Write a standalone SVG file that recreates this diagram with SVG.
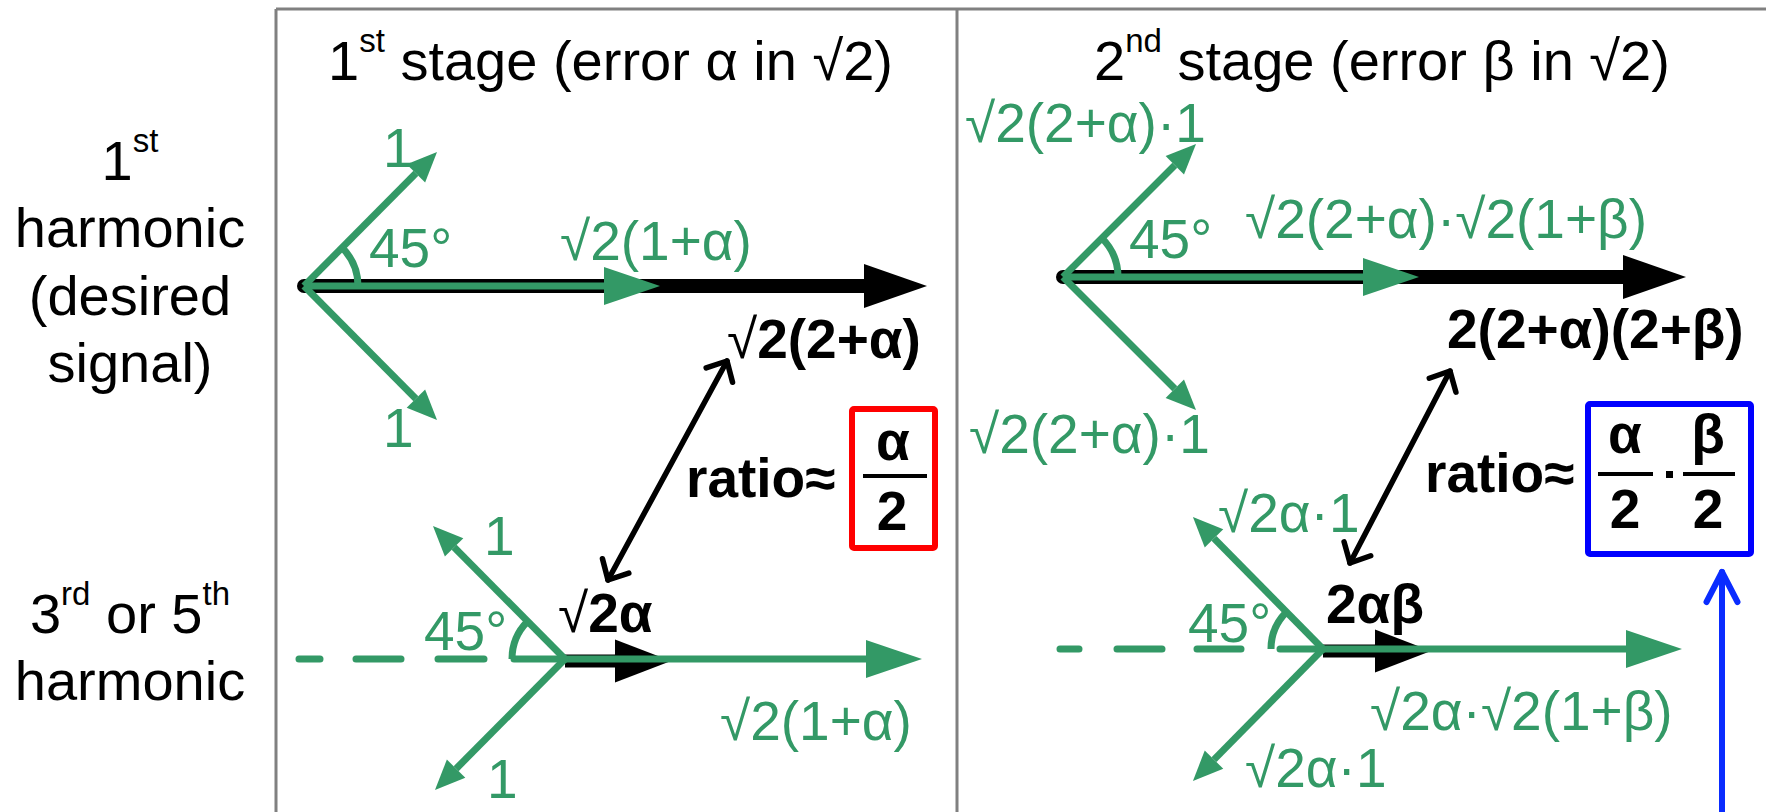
<svg xmlns="http://www.w3.org/2000/svg" width="1766" height="812" viewBox="0 0 1766 812">
<style>
.t{font-family:"Liberation Sans",Arial,sans-serif;font-size:56px;fill:#000}
.g{font-family:"Liberation Sans",Arial,sans-serif;font-size:55px;fill:#339966}
.b{font-family:"Liberation Sans",Arial,sans-serif;font-size:55px;font-weight:bold;fill:#000}
.n{font-weight:normal}
.frame{stroke:#808080;stroke-width:3;fill:none}
.gl{stroke:#339966;stroke-width:7;fill:none}
.gd{stroke:#339966;stroke-width:7;fill:none;stroke-linecap:round}
.bl{stroke:#000;fill:none}
</style>
<defs>
<marker id="gBig" markerUnits="userSpaceOnUse" orient="auto" refX="0" refY="0" markerWidth="60" markerHeight="40" overflow="visible"><path d="M0,-19 L56,0 L0,19 z" fill="#339966"/></marker>
<marker id="gSmall" markerUnits="userSpaceOnUse" orient="auto" refX="0" refY="0" markerWidth="32" markerHeight="28" overflow="visible"><path d="M0,-13 L30,0 L0,13 z" fill="#339966"/></marker>
<marker id="kBig" markerUnits="userSpaceOnUse" orient="auto" refX="0" refY="0" markerWidth="64" markerHeight="44" overflow="visible"><path d="M0,-22 L63,0 L0,22 z" fill="#000"/></marker>
<marker id="kMid" markerUnits="userSpaceOnUse" orient="auto" refX="0" refY="0" markerWidth="58" markerHeight="44" overflow="visible"><path d="M0,-21.5 L56,0 L0,21.5 z" fill="#000"/></marker>
<marker id="openK" markerUnits="userSpaceOnUse" orient="auto-start-reverse" refX="0" refY="0" markerWidth="22" markerHeight="32" overflow="visible"><path d="M-16,-15 L0,0 L-16,15" fill="none" stroke="#000" stroke-width="5.5" stroke-linecap="round" stroke-linejoin="round"/></marker>
<marker id="openB" markerUnits="userSpaceOnUse" orient="auto" refX="0" refY="0" markerWidth="34" markerHeight="34" overflow="visible"><path d="M-30,-15.5 L0,0 L-30,15.5" fill="none" stroke="#0a2cff" stroke-width="6" stroke-linecap="round" stroke-linejoin="round"/></marker>
</defs>

<g id="frame">
<line class="frame" x1="276" y1="9" x2="1766" y2="9"/>
<line class="frame" x1="276" y1="9" x2="276" y2="812"/>
<line class="frame" x1="957" y1="9" x2="957" y2="812"/>
</g>

<g id="row-labels">
<text class="t" text-anchor="middle" x="130" y="180">1<tspan dy="-28" font-size="33">st</tspan></text>
<text class="t" text-anchor="middle" x="130" y="247">harmonic</text>
<text class="t" text-anchor="middle" x="130" y="315">(desired</text>
<text class="t" text-anchor="middle" x="130" y="382">signal)</text>
<text class="t" text-anchor="middle" x="130" y="633">3<tspan dy="-28" font-size="33">rd</tspan><tspan dy="28"> or 5</tspan><tspan dy="-28" font-size="33">th</tspan></text>
<text class="t" text-anchor="middle" x="130" y="700">harmonic</text>
</g>

<g id="titles">
<text class="t" x="328" y="80">1<tspan dy="-28" font-size="33">st</tspan><tspan dy="28"> stage (error α in √2)</tspan></text>
<text class="t" x="1094" y="80">2<tspan dy="-28" font-size="33">nd</tspan><tspan dy="28"> stage (error β in √2)</tspan></text>
</g>

<g id="connectors">
<!-- stage 1, 1st harmonic -->
<line class="bl" x1="304" y1="286" x2="864" y2="286" stroke-width="14" stroke-linecap="round" marker-end="url(#kBig)"/>
<line class="gl" x1="304" y1="286" x2="604" y2="286" marker-end="url(#gBig)"/>
<line class="gl" x1="304" y1="286" x2="415.9" y2="173.3" marker-end="url(#gSmall)"/>
<line class="gl" x1="304" y1="286" x2="415.9" y2="398.7" marker-end="url(#gSmall)"/>
<path class="gl" stroke-width="5" d="M358,286 A54,54 0 0 0 342.2,247.8"/>
<!-- stage 1, 3rd/5th harmonic -->
<line class="bl" x1="565" y1="661" x2="615" y2="661" stroke-width="13" marker-end="url(#kMid)"/>
<line class="gl" x1="565" y1="659" x2="866" y2="659" marker-end="url(#gBig)"/>
<line class="gl" x1="565" y1="659" x2="454.1" y2="547.3" marker-end="url(#gSmall)"/>
<line class="gl" x1="565" y1="659" x2="456.1" y2="768.7" marker-end="url(#gSmall)"/>
<path class="gd" d="M299,659 H320 M356,659 H401 M438,659 H484 M514,659 H565"/>
<path class="gl" stroke-width="5" d="M512,659 A53,53 0 0 1 527.5,621.5"/>
<line x1="727" y1="361" x2="608" y2="580" stroke="#000" stroke-width="5.5" stroke-linecap="round" marker-start="url(#openK)" marker-end="url(#openK)"/>
<!-- stage 2, 1st harmonic -->
<line class="bl" x1="1063" y1="277" x2="1623" y2="277" stroke-width="14" stroke-linecap="round" marker-end="url(#kBig)"/>
<line class="gl" x1="1063" y1="277" x2="1363" y2="277" marker-end="url(#gBig)"/>
<line class="gl" x1="1063" y1="277" x2="1174.8" y2="165.2" marker-end="url(#gSmall)"/>
<line class="gl" x1="1063" y1="277" x2="1174.8" y2="388.8" marker-end="url(#gSmall)"/>
<path class="gl" stroke-width="5" d="M1118,277 A55,55 0 0 0 1101.9,238.1"/>
<!-- stage 2, 3rd/5th harmonic -->
<line class="bl" x1="1323" y1="651" x2="1375" y2="651" stroke-width="13" marker-end="url(#kMid)"/>
<line class="gl" x1="1323" y1="649" x2="1626" y2="649" marker-end="url(#gBig)"/>
<line class="gl" x1="1323" y1="649" x2="1214" y2="538.4" marker-end="url(#gSmall)"/>
<line class="gl" x1="1323" y1="649" x2="1214" y2="759.6" marker-end="url(#gSmall)"/>
<path class="gd" d="M1060,649 H1079 M1117,649 H1162 M1197,649 H1241 M1280,649 H1323"/>
<path class="gl" stroke-width="5" d="M1271,649 A52,52 0 0 1 1286.2,612.2"/>
<line x1="1450" y1="371" x2="1350" y2="563" stroke="#000" stroke-width="5.5" stroke-linecap="round" marker-start="url(#openK)" marker-end="url(#openK)"/>
<!-- blue pointer -->
<line x1="1722" y1="812" x2="1722" y2="572" stroke="#0a2cff" stroke-width="6" stroke-linecap="round" marker-end="url(#openB)"/>
</g>

<g id="stage1-labels">
<text class="g" x="383" y="167">1</text>
<text class="g" x="383" y="447">1</text>
<text class="g" x="369" y="267">45°</text>
<text class="g" x="560" y="260">√2(1+α)</text>
<text class="b" x="727" y="358"><tspan class="n">√</tspan>2(2+α)</text>
<text class="g" x="484" y="555">1</text>
<text class="g" x="487" y="798">1</text>
<text class="g" x="424" y="650">45°</text>
<text class="b" x="558" y="632"><tspan class="n">√</tspan>2α</text>
<text class="g" x="720" y="740">√2(1+α)</text>
</g>

<g id="ratio1">
<text class="b" x="686" y="497">ratio≈</text>
<rect x="852" y="409" width="83" height="139" rx="2" fill="none" stroke="#ff0000" stroke-width="6"/>
<text class="b" text-anchor="middle" x="893" y="460">α</text>
<line x1="863" y1="476" x2="927" y2="476" stroke="#000" stroke-width="4"/>
<text class="b" text-anchor="middle" x="892" y="530">2</text>
</g>

<g id="stage2-labels">
<text class="g" x="965" y="142">√2(2+α)·1</text>
<text class="g" x="1129" y="258">45°</text>
<text class="g" x="1245" y="238">√2(2+α)·√2(1+β)</text>
<text class="b" x="1447" y="348">2(2+α)(2+β)</text>
<text class="g" x="969" y="453">√2(2+α)·1</text>
<text class="g" x="1218" y="532">√2α·1</text>
<text class="g" x="1188" y="642">45°</text>
<text class="b" x="1326" y="623">2αβ</text>
<text class="g" x="1370" y="730">√2α·√2(1+β)</text>
<text class="g" x="1245" y="787">√2α·1</text>
</g>

<g id="ratio2">
<text class="b" x="1425" y="492">ratio≈</text>
<rect x="1588" y="404" width="163" height="150" rx="2" fill="none" stroke="#0000ff" stroke-width="6"/>
<text class="b" text-anchor="middle" x="1625" y="453">α</text>
<line x1="1598" y1="474" x2="1653" y2="474" stroke="#000" stroke-width="4"/>
<text class="b" text-anchor="middle" x="1625" y="528">2</text>
<rect x="1666" y="471" width="7" height="7" fill="#000"/>
<text class="b" text-anchor="middle" x="1708" y="453">β</text>
<line x1="1683" y1="474" x2="1735" y2="474" stroke="#000" stroke-width="4"/>
<text class="b" text-anchor="middle" x="1708" y="528">2</text>
</g>
</svg>
